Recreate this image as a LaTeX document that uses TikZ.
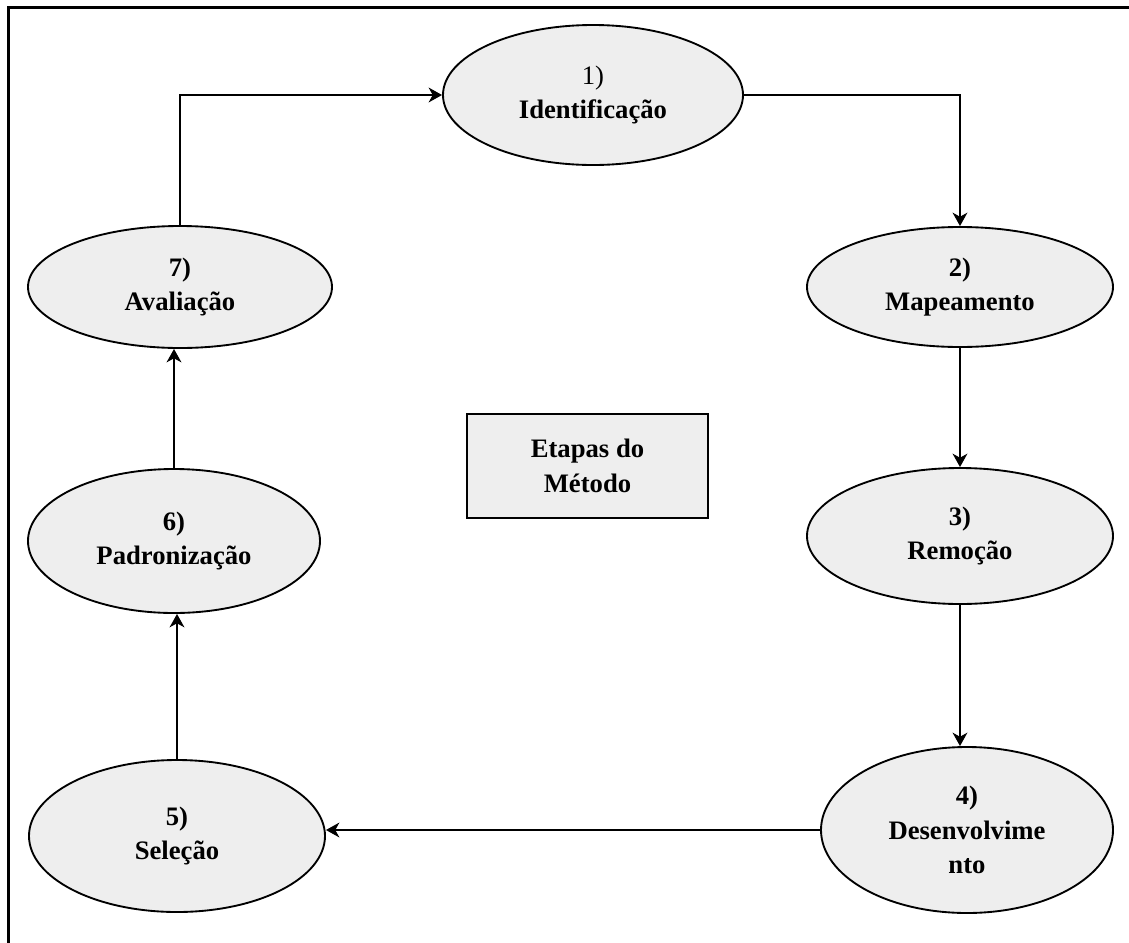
\documentclass[tikz,border=0pt]{standalone}
\usepackage{fontspec}
\setmainfont{Liberation Serif}
\usetikzlibrary{shapes.geometric,arrows.meta}
\tikzset{
  stage/.style={ellipse, draw=black, line width=1.4pt, fill=stagegray, inner sep=0pt,
    align=center, font=\fontsize{20}{26}\selectfont\bfseries},
  titlebox/.style={rectangle, draw=black, line width=1.4pt, fill=stagegray, inner sep=0pt,
    align=center, font=\fontsize{20}{26}\selectfont\bfseries},
  conn/.style={line width=1.9pt, -{Stealth[length=10pt,width=11pt,inset=3pt]}},
  frame/.style={line width=2.4pt}
}
\definecolor{stagegray}{HTML}{EEEEEE}
\begin{document}
\begin{tikzpicture}[x=0.75pt,y=-0.75pt]
\useasboundingbox (0,0) rectangle (1129,943);
\draw[frame] (8.5,960) -- (8.5,7.5) -- (1140,7.5);

\node[stage, minimum width=225pt, minimum height=105pt] (e1) at (593,95) {{\mdseries 1)}\\Identificação};
\node[stage, minimum width=229.5pt, minimum height=90pt] (e2) at (960,287) {2)\\Mapeamento};
\node[stage, minimum width=229.5pt, minimum height=102pt] (e3) at (960,536) {3)\\Remoção};
\node[stage, minimum width=219pt, minimum height=124.5pt] (e4) at (967,830) {4)\\Desenvolvime\\nto};
\node[stage, minimum width=222pt, minimum height=114pt] (e5) at (177,836) {5)\\Seleção};
\node[stage, minimum width=219pt, minimum height=108pt] (e6) at (174,541) {6)\\Padronização};
\node[stage, minimum width=228pt, minimum height=91.5pt] (e7) at (180,287) {7)\\Avaliação};
\node[titlebox, minimum width=180.75pt, minimum height=78pt] (box) at (587.5,466) {Etapas do\\Método};

\draw[conn] (e7.north) |- (e1.west);
\draw[conn] (e1.east) -| (e2.north);
\draw[conn] (e2.south) -- (e3.north);
\draw[conn] (e3.south) -- (e3.south |- e4.north);
\draw[conn] (e4.west) -- (e4.west -| e5.east);
\draw[conn] (e5.north) -- (e5.north |- e6.south);
\draw[conn] (e6.north) -- (e6.north |- e7.south);
\end{tikzpicture}
\end{document}
